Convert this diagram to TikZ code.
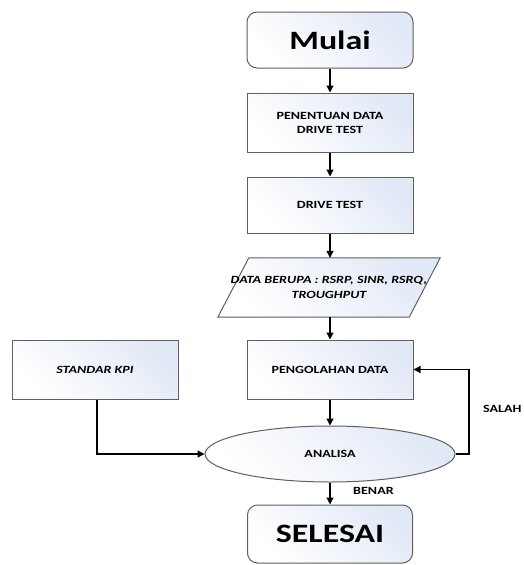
\documentclass[tikz,border=0pt]{standalone}
\usepackage{fontspec}
\setmainfont{Carlito}[FakeStretch=1.28]
\usetikzlibrary{arrows.meta,shapes.geometric}
\definecolor{boxblue}{RGB}{226,233,246}
\definecolor{edge}{RGB}{95,95,95}
\tikzset{
  x=1pt,y=-1pt,
  boxstyle/.style={draw=edge, line width=1pt, left color=boxblue, right color=white, shading angle=-45,
     minimum width=166pt, minimum height=58pt, align=center, font=\bfseries\fontsize{11}{14}\selectfont, inner sep=2pt},
  termstyle/.style={boxstyle, rounded corners=10pt, font=\bfseries\fontsize{26.5}{30}\selectfont},
  conn/.style={draw=black, line width=1.2pt, -{Triangle[length=7pt,width=7pt]}},
  lbl/.style={font=\bfseries\fontsize{11}{13}\selectfont, inner sep=0pt}
}
\begin{document}
\begin{tikzpicture}
\useasboundingbox (0,0) rectangle (524,565);
\node[termstyle, minimum height=56pt] (mulai) at (330,40) {Mulai};
\node[boxstyle, minimum height=59pt] (tentu) at (330,122.5) {PENENTUAN DATA\\DRIVE TEST};
\node[boxstyle, minimum height=56pt] (drive) at (330,205) {DRIVE TEST};
% parallelogram
\node[minimum width=222pt, minimum height=59pt, inner sep=0pt] (data) at (329,287.5) {};
\path[draw=edge, line width=1pt, left color=boxblue, right color=white, shading angle=-45]
  ([xshift=31pt]data.north west) -- (data.north east) -- ([xshift=-31pt]data.south east) -- (data.south west) -- cycle;
\node[align=center, font=\bfseries\itshape\fontsize{11}{15}\selectfont] at (data.center) {DATA BERUPA : RSRP, SINR, RSRQ,\\TROUGHPUT};
\node[boxstyle, minimum height=59pt] (olah) at (330,369.5) {PENGOLAHAN DATA};
\node[boxstyle, minimum height=59pt, font=\bfseries\itshape\fontsize{11}{13}\selectfont] (kpi) at (95,369.5) {STANDAR KPI};
\node[ellipse, draw=edge, line width=1pt, left color=boxblue, right color=white, shading angle=-45,
  minimum width=250pt, minimum height=56pt, inner sep=0pt, font=\bfseries\fontsize{11}{13}\selectfont] (anal) at (330,454) {ANALISA};
\node[termstyle, minimum height=58pt, minimum width=165pt] (selesai) at (330,534) {SELESAI};
\coordinate (loopR) at (469,454);
\coordinate (kpiC) at (97,454);
\draw[conn] (mulai) -- (tentu);
\draw[conn] (tentu) -- (drive);
\draw[conn] (drive) -- (drive |- data.north);
\draw[conn] (data.south -| olah) -- (olah);
\draw[conn] (olah) -- (anal);
\draw[conn] (kpi.south -| kpiC) -- (kpiC) -- (anal.west);
\draw[conn] (anal.east) -- (loopR) |- (olah.east);
\draw[conn] (anal) -- (selesai);
\node[lbl, anchor=west] (salah) at (483,409) {SALAH};
\node[lbl, anchor=west] (benar) at (353,491) {BENAR};
\end{tikzpicture}
\end{document}
